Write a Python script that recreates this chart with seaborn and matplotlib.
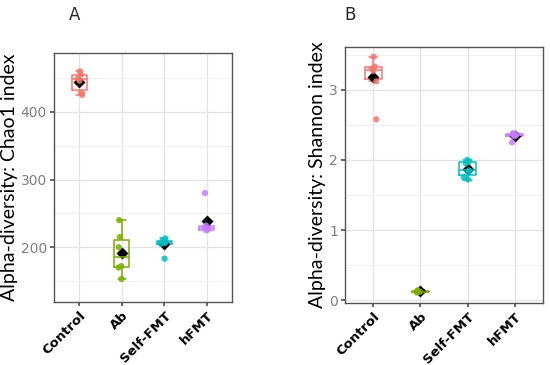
import numpy as np
import pandas as pd
import matplotlib
matplotlib.use("Agg")
import matplotlib.pyplot as plt
import seaborn as sns
from matplotlib.ticker import MultipleLocator

groups = ["Control", "Ab", "Self-FMT", "hFMT"]
colors = ["#F8766D", "#7CAE00", "#00BFC4", "#C77CFF"]

chao_control = [460, 455, 450, 446, 428, 425]
chao_ab = [240, 215, 200, 172, 170, 153]
chao_self = [213, 210, 208, 206, 205, 183]
chao_hfmt = [280, 232, 229, 226, 225]

shan_control = [3.47, 3.33, 3.30, 3.27, 3.12, 2.58]
shan_ab = [0.14, 0.13, 0.12, 0.12, 0.11]
shan_self = [2.00, 1.98, 1.95, 1.85, 1.82, 1.75, 1.72]
shan_hfmt = [2.38, 2.37, 2.36, 2.35, 2.34, 2.25]


def make_df(lists):
    rows = []
    for g, vals in zip(groups, lists):
        for v in vals:
            rows.append((g, v))
    return pd.DataFrame(rows, columns=["group", "value"])


df_a = make_df([chao_control, chao_ab, chao_self, chao_hfmt])
df_b = make_df([shan_control, shan_ab, shan_self, shan_hfmt])

sns.set_theme(style="white")
plt.rcParams["font.family"] = ["DejaVu Sans"]

fig = plt.figure(figsize=(5.5, 3.65), dpi=100)
W, H = 550, 365


def px_axes(l, t, r, b):
    return fig.add_axes([l / W, (H - b) / H, (r - l) / W, (b - t) / H])


ax_a = px_axes(54, 53, 232, 302)
ax_b = px_axes(345, 47, 543, 303)


def draw(ax, df, ylabel, ylim, major, minor, fmt):
    np.random.seed(3)
    sns.boxplot(data=df, x="group", y="value", hue="group", order=groups,
                hue_order=groups, palette=colors, fill=False, width=0.35,
                linewidth=1.1, showfliers=False, legend=False, ax=ax)
    sns.stripplot(data=df, x="group", y="value", hue="group", order=groups,
                  hue_order=groups, palette=colors, jitter=0.08, size=4.5,
                  alpha=0.85, linewidth=0, legend=False, ax=ax)
    sns.pointplot(data=df, x="group", y="value", order=groups, estimator="mean",
                  errorbar=None, color="black", markers="D", linestyles="none",
                  markersize=4, ax=ax)
    ax.set_axisbelow(True)
    ax.yaxis.set_major_locator(MultipleLocator(major))
    ax.yaxis.set_minor_locator(MultipleLocator(minor))
    ax.grid(True, which="major", color="#e3e3e3", linewidth=0.9)
    ax.grid(True, which="minor", axis="y", color="#eeeeee", linewidth=0.6)
    ax.set_xlim(-0.6, 3.6)
    ax.set_ylim(*ylim)
    ax.set_xlabel("")
    ax.set_ylabel(ylabel, fontsize=14, color="black", labelpad=2,
                  family=["Lato", "DejaVu Sans"])
    for s in ax.spines.values():
        s.set_color("#555555")
        s.set_linewidth(1.0)
    ax.tick_params(axis="y", labelsize=10, labelcolor="#7f7f7f", length=3,
                   color="#555555", left=True, pad=2)
    ax.tick_params(axis="y", which="minor", length=0)
    ax.tick_params(axis="x", length=3, color="#555555", bottom=True, pad=2)
    ax.set_xticks(range(len(groups)))
    ax.set_xticklabels(groups, rotation=45, ha="right", rotation_mode="anchor",
                       fontsize=9.5, fontweight="bold", color="black")
    ax.yaxis.set_major_formatter(matplotlib.ticker.FormatStrFormatter(fmt))


draw(ax_a, df_a, "Alpha-diversity: Chao1 index", (119, 487), 100, 50, "%d")
draw(ax_b, df_b, "Alpha-diversity: Shannon index", (-0.04, 3.61), 1, 0.5, "%d")

fig.text(75 / W, 1 - 15 / H, "A", fontsize=12, ha="center", va="center")
fig.text(350 / W, 1 - 15 / H, "B", fontsize=12, ha="center", va="center")

fig.savefig("out.png", dpi=100)
